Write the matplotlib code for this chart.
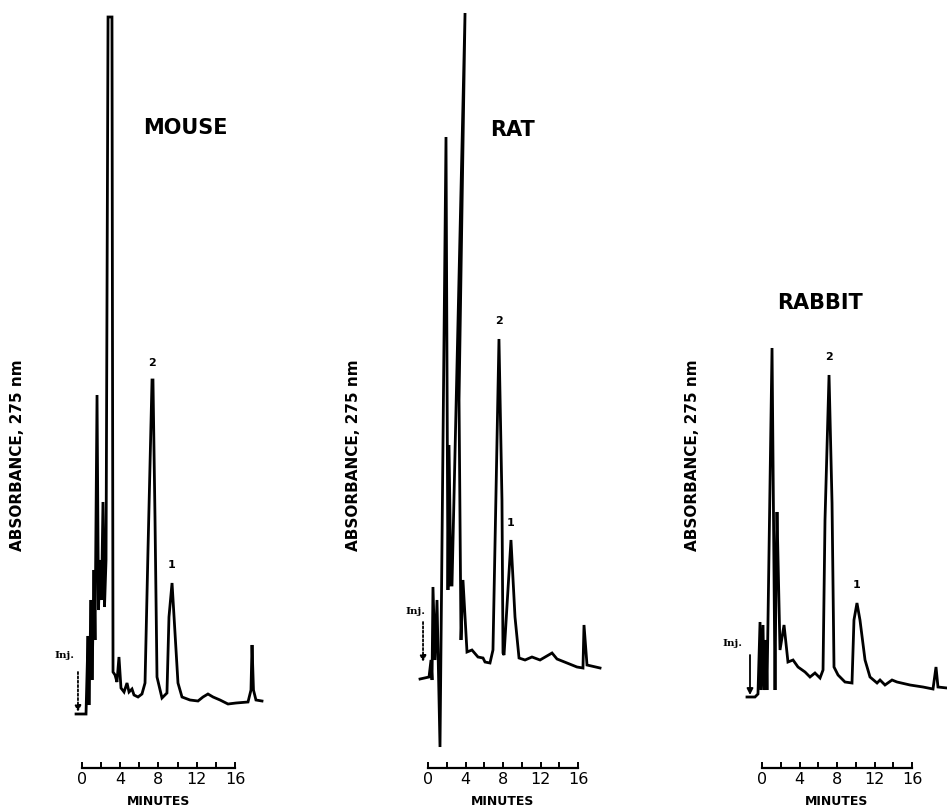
import matplotlib.pyplot as plt
from matplotlib.ticker import FixedLocator, FixedFormatter

# Chromatograms: minutes after injection vs absorbance (arbitrary units)
mouse_min = [-0.59, 0.45, 0.66, 0.76, 0.97, 1.08, 1.28, 1.39, 1.60, 1.75, 1.91, 2.07, 2.22,
             2.38, 2.54, 2.75, 3.16, 3.27, 3.48, 3.68, 3.89, 4.10, 4.42, 4.73, 4.94, 5.25,
             5.46, 5.88, 6.29, 6.61, 6.92, 7.34, 7.44, 7.65, 7.86, 8.38, 8.90, 9.11, 9.43,
             9.74, 10.05, 10.47, 11.30, 12.14, 12.66, 13.18, 13.71, 14.44, 15.27, 16.11,
             17.36, 17.67, 17.78, 17.93, 18.19, 18.82]
mouse_abs = [0.54, 0.54, 1.32, 0.63, 1.68, 0.88, 1.98, 1.28, 3.73, 1.58, 2.08, 1.68, 2.66,
             1.61, 2.08, 7.51, 7.51, 0.96, 0.93, 0.86, 1.11, 0.80, 0.76, 0.85, 0.76, 0.79,
             0.73, 0.71, 0.74, 0.85, 2.18, 3.88, 3.88, 2.51, 0.91, 0.70, 0.75, 1.51, 1.85,
             1.35, 0.85, 0.71, 0.68, 0.67, 0.71, 0.74, 0.71, 0.68, 0.64, 0.65,
             0.66, 0.78, 1.23, 0.78, 0.68, 0.67]

rat_min = [-0.85, 0.11, 0.32, 0.43, 0.53, 0.75, 0.96, 1.28, 1.92, 2.13, 2.24, 2.45, 2.56,
           3.95, 3.31, 3.52, 3.73, 4.16, 4.69, 5.33, 5.87, 6.08, 6.61, 6.93, 7.57, 7.89,
           8.00, 8.11, 8.85, 9.28, 9.71, 10.35, 11.09, 11.95, 13.23, 13.76, 14.83, 15.89,
           16.53, 16.64, 16.96, 18.35]
rat_abs = [0.89, 0.91, 1.08, 0.88, 1.81, 1.08, 1.68, 0.21, 6.31, 1.78, 3.23, 1.83, 1.83,
           7.55, 3.68, 1.28, 1.88, 1.16, 1.18, 1.11, 1.10, 1.06, 1.05, 1.18, 4.29, 2.68,
           1.15, 1.13, 2.28, 1.51, 1.10, 1.08, 1.11, 1.08, 1.15, 1.09, 1.05, 1.01,
           1.00, 1.43, 1.03, 1.00]

rabbit_min = [-1.60, -0.75, -0.43, -0.21, -0.11, 0.11, 0.21, 0.43, 0.53, 1.07, 1.39, 1.49,
              1.60, 1.92, 2.35, 2.77, 3.31, 3.84, 4.59, 5.12, 5.65, 6.19, 6.51, 6.72, 7.15,
              7.47, 7.68, 8.11, 8.85, 9.60, 9.81, 10.13, 10.45, 10.99, 11.52, 12.27, 12.59,
              13.12, 13.87, 14.40, 15.79, 17.17, 18.24, 18.56, 18.77, 19.73]
rabbit_abs = [0.71, 0.71, 0.74, 1.46, 0.78, 1.43, 0.78, 1.28, 0.78, 4.20, 0.78, 1.88,
              2.56, 1.18, 1.43, 1.06, 1.08, 1.01, 0.96, 0.91, 0.95, 0.90, 0.98, 2.48, 3.93,
              2.65, 1.01, 0.93, 0.86, 0.85, 1.48, 1.65, 1.48, 1.08, 0.91, 0.85, 0.88,
              0.83, 0.88, 0.86, 0.83, 0.81, 0.79, 1.01, 0.81, 0.80]

# numbered peaks (label, minutes, absorbance at apex)
peak_labels = ["2", "1"]
mouse_peak_min, mouse_peak_abs = [7.39, 9.43], [3.88, 1.85]
rat_peak_min, rat_peak_abs = [7.57, 8.85], [4.29, 2.28]
rabbit_peak_min, rabbit_peak_abs = [7.15, 10.13], [3.93, 1.65]

tick_minutes = [0, 4, 8, 12, 16]
minor_minutes = [2, 6, 10, 14]

W, H = 947, 810
fig = plt.figure(figsize=(W / 100, H / 100), dpi=100)
plt.rcParams['font.family'] = 'DejaVu Sans'

panels = [
    dict(title="MOUSE", t=mouse_min, a=mouse_abs, pk_t=mouse_peak_min, pk_a=mouse_peak_abs,
         zero=81.7, ppm=9.58, xlim=(-1.5, 20.0), title_xy=(185, 128), ylab_x=18,
         inj_t=-0.39, inj_a=(0.96, 0.56), inj_txt=(-1.85, 1.13), dotted=True),
    dict(title="RAT", t=rat_min, a=rat_abs, pk_t=rat_peak_min, pk_a=rat_peak_abs,
         zero=428.0, ppm=9.375, xlim=(-1.5, 20.0), title_xy=(512, 130), ylab_x=353,
         inj_t=-0.53, inj_a=(1.46, 1.06), inj_txt=(-1.39, 1.56), dotted=True),
    dict(title="RABBIT", t=rabbit_min, a=rabbit_abs, pk_t=rabbit_peak_min, pk_a=rabbit_peak_abs,
         zero=762.0, ppm=9.375, xlim=(-2.0, 19.7), title_xy=(820, 303), ylab_x=692,
         inj_t=-1.28, inj_a=(1.13, 0.73), inj_txt=(-3.2, 1.25), dotted=False),
]

bar_y, top_y = 768, 10   # pixel rows of the time bar and the chart top
ylim = (0, (bar_y - top_y) / 100)

for p in panels:
    x0, x1 = p['xlim']
    left = p['zero'] + x0 * p['ppm']
    right = p['zero'] + x1 * p['ppm']
    ax = fig.add_axes([left / W, (H - bar_y) / H, (right - left) / W, (bar_y - top_y) / H])
    ax.set_xlim(x0, x1)
    ax.set_ylim(*ylim)
    ax.plot(p['t'], p['a'], color='black', lw=2.0, solid_joinstyle='miter', clip_on=False)

    for lab, pt, pa in zip(peak_labels, p['pk_t'], p['pk_a']):
        ax.annotate(lab, xy=(pt, pa), xytext=(0, 9), textcoords='offset points',
                    ha='center', va='bottom', fontsize=8, fontweight='bold')

    ls = (0, (1.2, 1.2)) if p['dotted'] else '-'
    ax.annotate("", xy=(p['inj_t'], p['inj_a'][1]), xytext=(p['inj_t'], p['inj_a'][0]),
                arrowprops=dict(arrowstyle='-|>', color='black', lw=1.3, linestyle=ls,
                                mutation_scale=9, shrinkA=0, shrinkB=0))
    ax.text(p['inj_txt'][0], p['inj_txt'][1], "Inj.", ha='center', va='center',
            fontsize=7.5, fontweight='bold', family='DejaVu Serif')

    for s in ['left', 'right', 'top']:
        ax.spines[s].set_visible(False)
    ax.spines['bottom'].set_bounds(0, 16)
    ax.spines['bottom'].set_linewidth(1.6)
    ax.set_yticks([])
    ax.xaxis.set_major_locator(FixedLocator(tick_minutes))
    ax.xaxis.set_major_formatter(FixedFormatter([str(m) for m in tick_minutes]))
    ax.xaxis.set_minor_locator(FixedLocator(minor_minutes))
    ax.tick_params(axis='x', which='both', direction='in', length=4, width=1.4, pad=3,
                   labelsize=11.5)
    ax.set_xlabel("MINUTES", fontsize=9, fontweight='bold')
    ax.xaxis.set_label_coords((8 - x0) / (x1 - x0), -0.035)
    ax.patch.set_visible(False)

    tx, ty = p['title_xy']
    fig.text(tx / W, 1 - ty / H, p['title'], ha='center', va='center',
             fontsize=15, fontweight='bold')
    fig.text(p['ylab_x'] / W, 1 - 455 / H, "ABSORBANCE, 275 nm", rotation=90,
             ha='center', va='center', fontsize=11, fontweight='bold')

fig.savefig("out.png", dpi=100, facecolor='white')
